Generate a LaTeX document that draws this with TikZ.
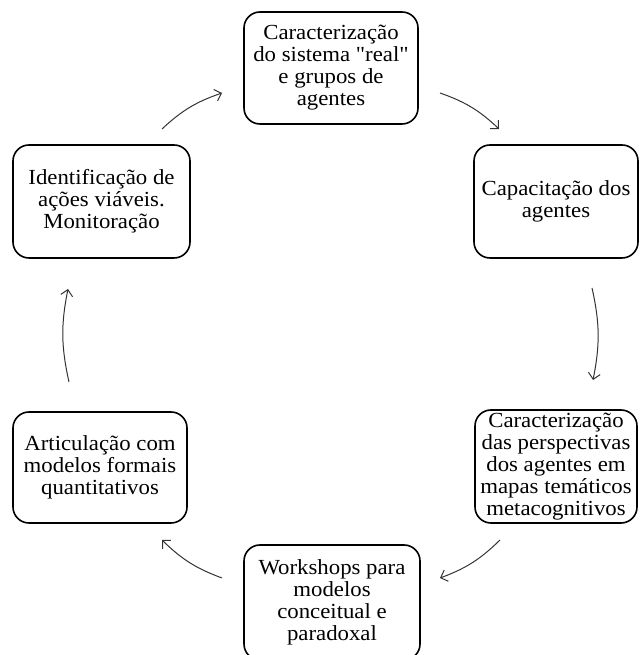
\documentclass[tikz,border=0pt]{standalone}
\usepackage{fontspec}
\setmainfont{Liberation Serif}[FakeStretch=1.06, Ligatures=TeXOff]
\usetikzlibrary{arrows.meta}
\begin{document}
\begin{tikzpicture}[x=1pt,y=1pt,
  stage/.style={draw=black, line width=1.6pt, rounded corners=16pt, align=center,
    inner sep=0pt, font=\fontsize{21.5}{22}\selectfont},
  flow/.style={draw=black!80, line width=1pt,
    -{Straight Barb[length=6pt,width=12pt]}, bend left=12}]
\useasboundingbox (0,0) rectangle (641,655);
\clip (0,0) rectangle (641,655);

% the six stages of the cycle
\node[stage, minimum width=174pt, minimum height=112pt] (s1) at (331,587)
  {Caracterização\\do sistema "real"\\e grupos de\\agentes};
\node[stage, minimum width=164pt, minimum height=113pt] (s2) at (556,453.5)
  {Capacitação dos\\agentes};
\node[stage, minimum width=162pt, minimum height=113pt] (s3) at (556,188.5)
  {Caracterização\\das perspectivas\\dos agentes em\\mapas temáticos\\metacognitivos};
\node[stage, minimum width=176pt, minimum height=115pt] (s4) at (332,52.5)
  {Workshops para\\modelos\\conceitual e\\paradoxal};
\node[stage, minimum width=174pt, minimum height=111pt] (s5) at (100,187.5)
  {Articulação com\\modelos formais\\quantitativos};
\node[stage, minimum width=177pt, minimum height=113pt] (s6) at (101.5,453.5)
  {Identificação de\\ações viáveis.\\Monitoração};

% free ends of the connecting arrows
\coordinate (a1s) at (162,526); \coordinate (a1e) at (222,562);
\coordinate (a2s) at (440,562); \coordinate (a2e) at (499,526);
\coordinate (a3s) at (592,367); \coordinate (a3e) at (593,275);
\coordinate (a4s) at (500,115); \coordinate (a4e) at (440,77);
\coordinate (a5s) at (222,77);  \coordinate (a5e) at (162,115);
\coordinate (a6s) at (69,273);  \coordinate (a6e) at (68,366);

\draw[flow] (a1s) to (a1e);
\draw[flow] (a2s) to (a2e);
\draw[flow] (a3s) to (a3e);
\draw[flow] (a4s) to (a4e);
\draw[flow] (a5s) to (a5e);
\draw[flow] (a6s) to (a6e);
\end{tikzpicture}
\end{document}
